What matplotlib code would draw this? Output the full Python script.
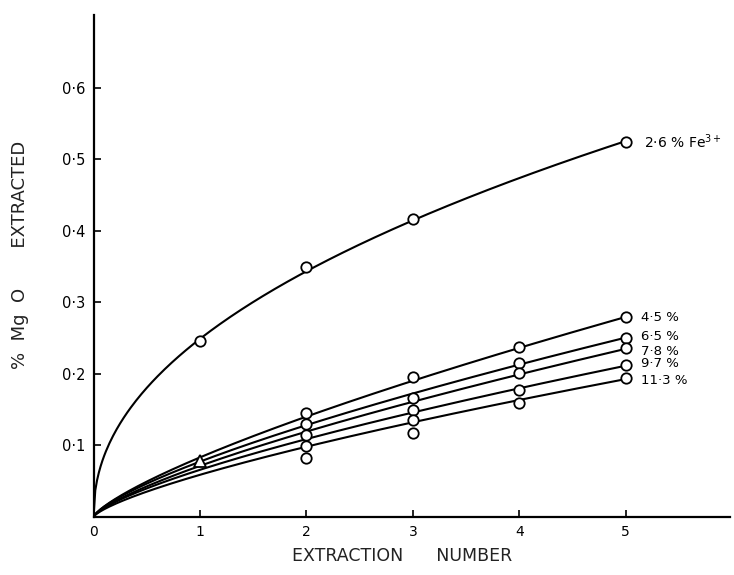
import numpy as np
import matplotlib.pyplot as plt

# values
extraction = [1, 2, 3, 4, 5]

fe26_x = [1, 2, 3, 5]
fe26_y = [0.246, 0.350, 0.417, 0.525]

# common first extraction (triangle) for the lower series
first_x = 1
first_y = 0.078

labels = ["4·5 %", "6·5 %", "7·8 %", "9·7 %", "11·3 %"]
low_x = [2, 3, 4, 5]
fe45 = [0.146, 0.196, 0.238, 0.279]
fe65 = [0.130, 0.166, 0.216, 0.251]
fe78 = [0.115, 0.150, 0.201, 0.236]
fe97 = [0.099, 0.135, 0.177, 0.213]
fe113 = [0.083, 0.118, 0.159, 0.195]
low_series = [fe45, fe65, fe78, fe97, fe113]
label_dy = [0, -1, 3, -1, 3]  # label nudges in px (positive = down)

xticks = [0, 1, 2, 3, 4, 5]
yticks = [0.1, 0.2, 0.3, 0.4, 0.5, 0.6]


def fit_curve(xs, ys, w=None):
    # power law y = a*x^b through the origin, fitted in log space
    b, lna = np.polyfit(np.log(xs), np.log(ys), 1, w=w)
    return np.exp(lna), b


plt.rcParams['font.family'] = ['DejaVu Sans']

fig = plt.figure(figsize=(7.34, 5.75), dpi=100)
ax = fig.add_axes([93.5 / 734, 58 / 575, (730 - 93.5) / 734, (517 - 15) / 575])

xx = np.linspace(0, 5, 300)
line_kw = dict(color="black", linewidth=1.5, zorder=2)
mark_kw = dict(marker="o", linestyle="none", markersize=7.5, markerfacecolor="white",
               markeredgecolor="black", markeredgewidth=1.3, zorder=3)

# 2.6 % Fe3+
a, b = fit_curve(fe26_x, fe26_y, w=[1, 1, 1, 3])
ax.plot(xx, a * xx ** b, **line_kw)
ax.plot(fe26_x, fe26_y, **mark_kw)
ax.annotate("2·6 % Fe$^{3+}$", (fe26_x[-1], fe26_y[-1]), xytext=(13, 0),
            textcoords="offset points", va="center", ha="left", fontsize=10)

# the other iron contents
for lab, ys, dy in zip(labels, low_series, label_dy):
    fx = [first_x] + low_x
    fy = [first_y] + ys
    a, b = fit_curve(fx, fy, w=[0.7, 1, 1, 1, 4])
    ax.plot(xx, a * xx ** b, **line_kw)
    ax.plot(low_x, ys, **mark_kw)
    ax.annotate(lab, (low_x[-1], ys[-1]), xytext=(11, -dy * 0.72),
                textcoords="offset points", va="center", ha="left", fontsize=9.5)

ax.plot([first_x], [first_y], marker="^", linestyle="none", markersize=8,
        markerfacecolor="white", markeredgecolor="black", markeredgewidth=1.3, zorder=4)

# axes
ax.set_xlim(0, 5.98)
ax.set_ylim(0, 0.702)
ax.spines["top"].set_visible(False)
ax.spines["right"].set_visible(False)
ax.spines["left"].set_linewidth(1.6)
ax.spines["bottom"].set_linewidth(1.6)

ax.set_xticks(xticks)
ax.set_xticklabels([str(t) for t in xticks])
ax.set_yticks(yticks)
ax.set_yticklabels([f"{t:.1f}".replace(".", "·") for t in yticks])
ax.tick_params(axis="x", direction="in", length=5, width=1.2, pad=6, labelsize=10)
ax.tick_params(axis="y", direction="in", length=5, width=1.2, pad=6, labelsize=10.5)

fig.text(402 / 734, 1 - 556 / 575, "EXTRACTION      NUMBER", ha="center", va="center",
         fontsize=12.5, color="#222222")
fig.text(20 / 734, 1 - 255 / 575, "%  Mg  O       EXTRACTED", ha="center", va="center",
         rotation=90, fontsize=13, color="#222222")

fig.savefig("out.png", dpi=100)
